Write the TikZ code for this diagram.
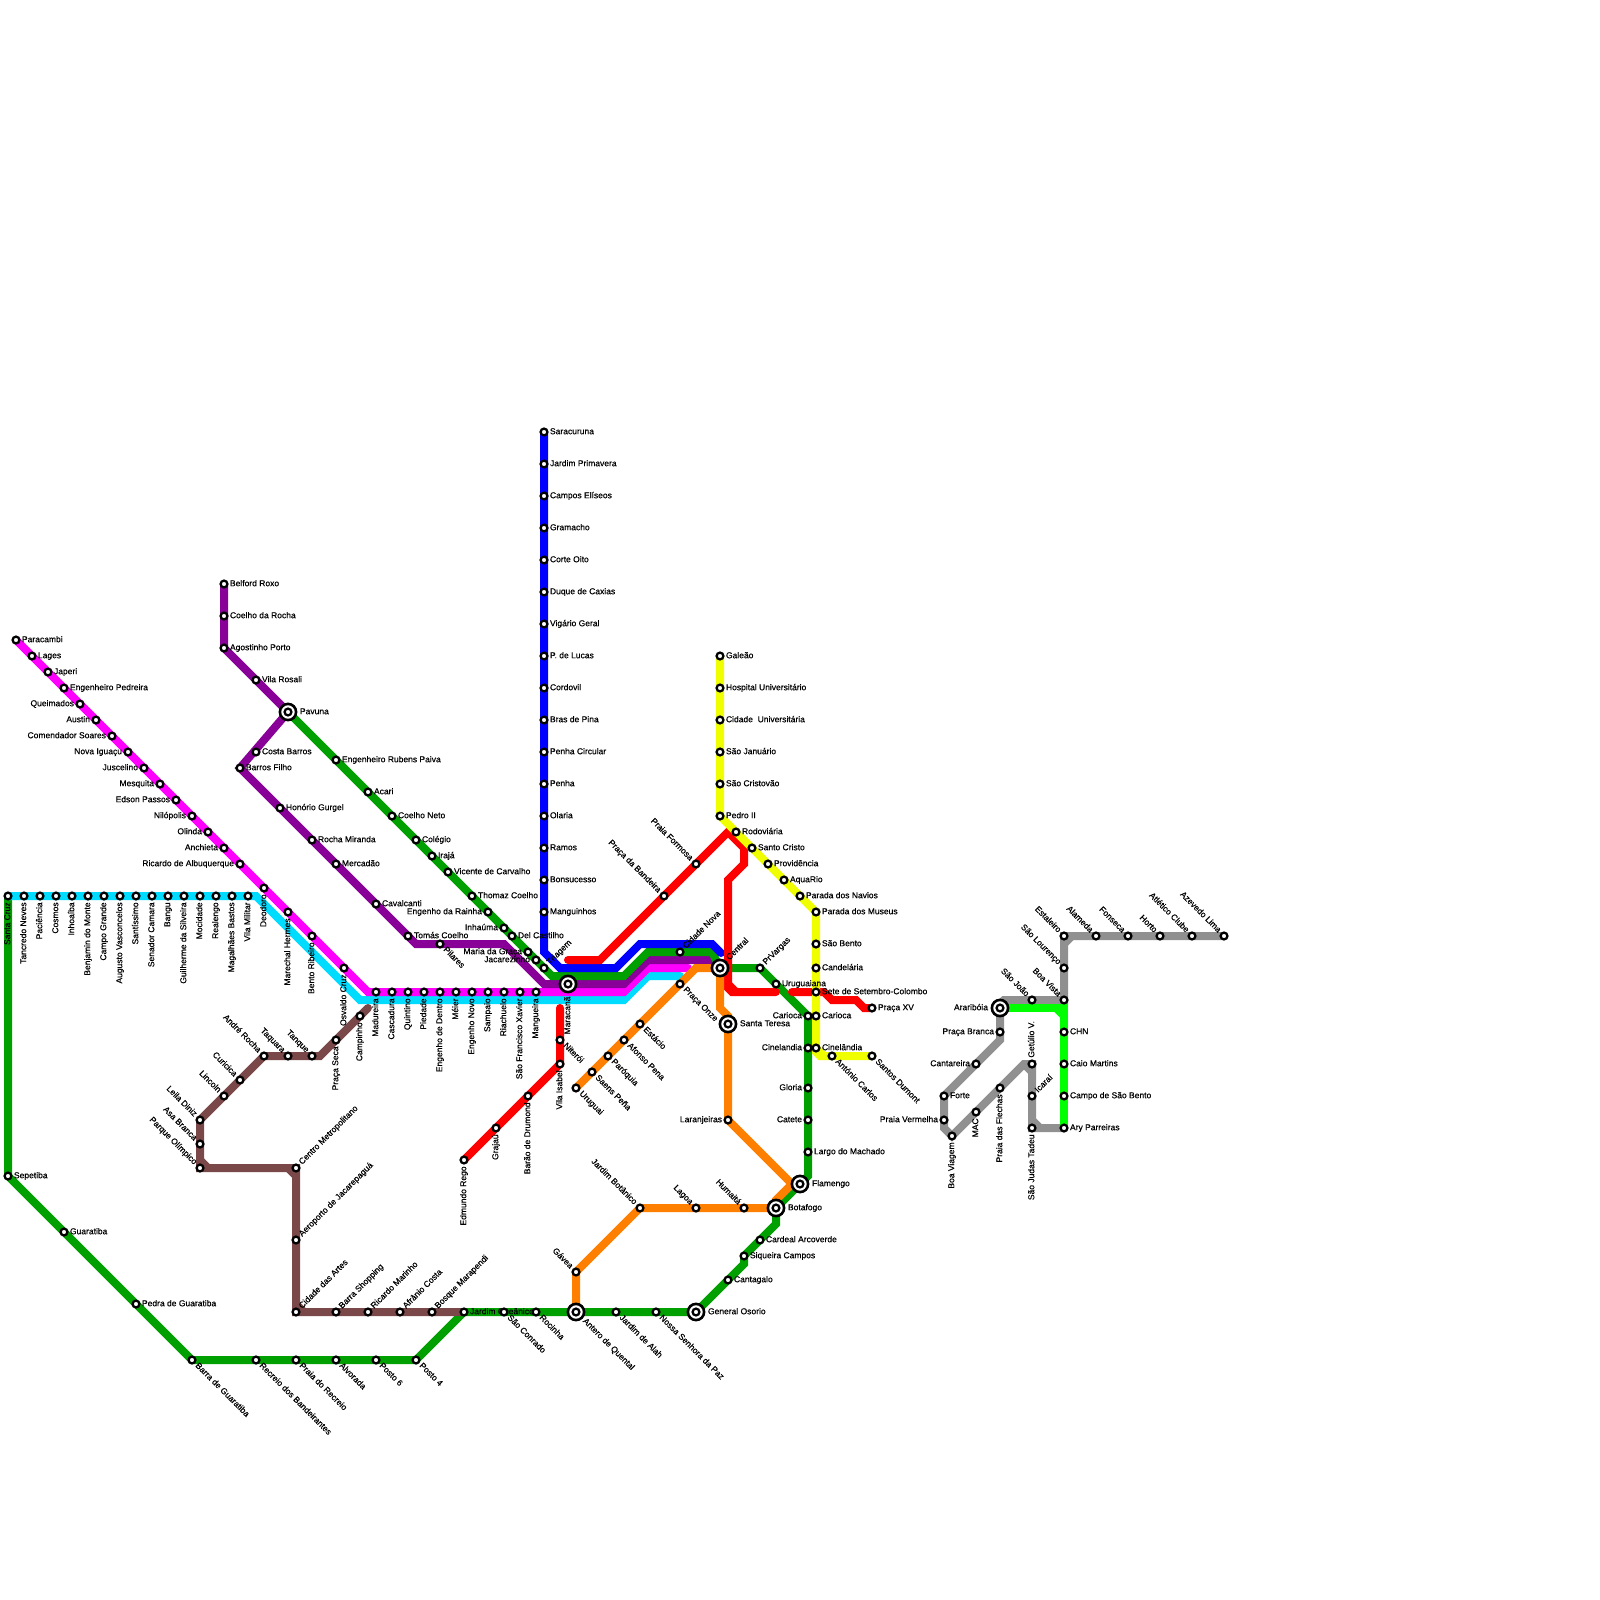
\documentclass[tikz,border=0pt]{standalone}
\usepackage{fontspec}
\setmainfont{Liberation Sans}
\newfontfamily\lblfont[FakeBold=0.4]{Liberation Sans}
\pgfdeclarelayer{bg}
\pgfsetlayers{bg,main}
\definecolor{lgreen}{RGB}{0,160,0}
\definecolor{lmag}{RGB}{255,0,255}
\definecolor{lcyan}{RGB}{0,220,255}
\definecolor{lpur}{RGB}{136,0,152}
\definecolor{lblue}{RGB}{0,0,255}
\definecolor{lred}{RGB}{255,0,0}
\definecolor{lora}{RGB}{255,128,0}
\definecolor{lyel}{RGB}{240,255,0}
\definecolor{lbrn}{RGB}{122,72,72}
\definecolor{lgry}{RGB}{144,144,144}
\definecolor{llim}{RGB}{0,255,0}
\tikzset{
  stn/.style={circle,draw=black,fill=white,line width=1.15pt,minimum size=3.4pt,inner sep=0pt},
  ringn/.style={circle,draw=black,fill=white,line width=1.3pt,minimum size=8.1pt,inner sep=0pt},
  lbl/.style={inner sep=0pt,outer sep=0pt,text height=2.8pt,text depth=0.6pt,text=black,font=\lblfont\fontsize{4.25pt}{5pt}\selectfont},
  R/.style={lbl,xshift=3pt,anchor=west},
  L/.style={lbl,xshift=-3pt,anchor=east},
  V/.style={lbl,yshift=-3.2pt,rotate=90,anchor=east},
  U/.style={lbl,yshift=3.2pt,rotate=90,anchor=west},
  UR/.style={lbl,xshift=2.3pt,yshift=2.3pt,rotate=45,anchor=west},
  DR/.style={lbl,xshift=2.3pt,yshift=-2.3pt,rotate=-45,anchor=west},
  UL/.style={lbl,xshift=-2.3pt,yshift=2.3pt,rotate=-45,anchor=east},
  BR/.style={lbl,xshift=6pt,anchor=west},
  BL/.style={lbl,xshift=-6pt,anchor=east},
  BV/.style={lbl,yshift=-6.3pt,rotate=90,anchor=east},
  BUR/.style={lbl,xshift=4pt,yshift=4.5pt,rotate=45,anchor=west},
  BDR/.style={lbl,xshift=4pt,yshift=-4pt,rotate=-45,anchor=west},
  ln/.style={line width=4pt,line cap=round,line join=miter,miter limit=10}
}
\newcommand{\st}[5]{\node[stn] (#1) at (#2,#3) {};\node[#4] (#1t) at (#2,#3) {#5};}
\newcommand{\bigst}[5]{\node[ringn] (#1r) at (#2,#3) {};\node[stn] (#1) at (#2,#3) {};\node[#4] (#1t) at (#2,#3) {#5};}
\begin{document}
\begin{tikzpicture}[x=0.5pt,y=-0.5pt]
\path[use as bounding box] (0,0) rectangle (1600,1600);
% magenta
\st{paracambi}{16}{640}{R}{Paracambi}
\st{lages}{32}{656}{R}{Lages}
\st{japeri}{48}{672}{R}{Japeri}
\st{engped}{64}{688}{R}{Engenheiro Pedreira}
\st{queimados}{80}{704}{L}{Queimados}
\st{austin}{96}{720}{L}{Austin}
\st{comsoares}{112}{736}{L}{Comendador Soares}
\st{novaig}{128}{752}{L}{Nova Iguaçu}
\st{juscelino}{144}{768}{L}{Juscelino}
\st{mesquita}{160}{784}{L}{Mesquita}
\st{edson}{176}{800}{L}{Edson Passos}
\st{nilopolis}{192}{816}{L}{Nilópolis}
\st{olinda}{208}{832}{L}{Olinda}
\st{anchieta}{224}{848}{L}{Anchieta}
\st{ricardo}{240}{864}{L}{Ricardo de Albuquerque}
\st{deodoro}{264}{888}{V}{Deodoro}
\st{marechal}{288}{912}{V}{Marechal Hermes}
\st{bento}{312}{936}{V}{Bento Ribeiro}
\st{osvaldo}{344}{968}{V}{Osvaldo Cruz}
\st{madureira}{376}{992}{V}{Madureira}
\st{cascadura}{392}{992}{V}{Cascadura}
\st{quintino}{408}{992}{V}{Quintino}
\st{piedade}{424}{992}{V}{Piedade}
\st{engdentro}{440}{992}{V}{Engenho de Dentro}
\st{meier}{456}{992}{V}{Méier}
\st{engnovo}{472}{992}{V}{Engenho Novo}
\st{sampaio}{488}{992}{V}{Sampaio}
\st{riachuelo}{504}{992}{V}{Riachuelo}
\st{sfx}{520}{992}{V}{São Francisco Xavier}
\st{mangueira}{536}{992}{V}{Mangueira}
% cyan
\st{stacruz}{8}{896}{V}{Santa Cruz}
\st{tancredo}{24}{896}{V}{Tancredo Neves}
\st{paciencia}{40}{896}{V}{Paciência}
\st{cosmos}{56}{896}{V}{Cosmos}
\st{inhoaiba}{72}{896}{V}{Inhoaíba}
\st{benjamin}{88}{896}{V}{Benjamin do Monte}
\st{campogr}{104}{896}{V}{Campo Grande}
\st{augusto}{120}{896}{V}{Augusto Vasconcelos}
\st{santissimo}{136}{896}{V}{Santíssimo}
\st{senador}{152}{896}{V}{Senador Camara}
\st{bangu}{168}{896}{V}{Bangu}
\st{guilherme}{184}{896}{V}{Guilherme da Silveira}
\st{mocidade}{200}{896}{V}{Mocidade}
\st{realengo}{216}{896}{V}{Realengo}
\st{magalhaes}{232}{896}{V}{Magalhães Bastos}
\st{vilamil}{248}{896}{V}{Vila Militar}
% purple
\st{belford}{224}{584}{R}{Belford Roxo}
\st{coelhor}{224}{616}{R}{Coelho da Rocha}
\st{agostinho}{224}{648}{R}{Agostinho Porto}
\st{vilarosali}{256}{680}{R}{Vila Rosali}
\bigst{pavuna}{288}{712}{BR}{Pavuna}
\st{costab}{256}{752}{R}{Costa Barros}
\st{barrosf}{240}{768}{R}{Barros Filho}
\st{honorio}{280}{808}{R}{Honório Gurgel}
\st{rocham}{312}{840}{R}{Rocha Miranda}
\st{mercadao}{336}{864}{R}{Mercadão}
\st{cavalcanti}{376}{904}{R}{Cavalcanti}
\st{tomas}{408}{936}{R}{Tomás Coelho}
\st{pilares}{440}{944}{DR}{Pilares}
% green 2
\st{rubens}{336}{760}{R}{Engenheiro Rubens Paiva}
\st{acari}{368}{792}{R}{Acari}
\st{coelhon}{392}{816}{R}{Coelho Neto}
\st{colegio}{416}{840}{R}{Colégio}
\st{iraja}{432}{856}{R}{Irajá}
\st{vicente}{448}{872}{R}{Vicente de Carvalho}
\st{thomaz}{472}{896}{R}{Thomaz Coelho}
\st{rainha}{488}{912}{L}{Engenho da Rainha}
\st{inhauma}{504}{928}{L}{Inhaúma}
\st{delcast}{512}{936}{R}{Del Castilho}
\st{mgraca}{528}{952}{L}{Maria da Graça}
\st{jacare}{536}{960}{L}{Jacarezinho}
\st{triagem}{544}{968}{UR}{Triagem}
\bigst{maracana}{568}{984}{BV}{Maracanã}
\st{cidnova}{680}{952}{UR}{Cidade Nova}
\bigst{central}{720}{968}{BUR}{Central}
% blue
\st{saracuruna}{544}{432}{R}{Saracuruna}
\st{jprimavera}{544}{464}{R}{Jardim Primavera}
\st{celiseos}{544}{496}{R}{Campos Elíseos}
\st{gramacho}{544}{528}{R}{Gramacho}
\st{corteoito}{544}{560}{R}{Corte Oito}
\st{duque}{544}{592}{R}{Duque de Caxias}
\st{vigario}{544}{624}{R}{Vigário Geral}
\st{plucas}{544}{656}{R}{P. de Lucas}
\st{cordovil}{544}{688}{R}{Cordovil}
\st{braspina}{544}{720}{R}{Bras de Pina}
\st{penhac}{544}{752}{R}{Penha Circular}
\st{penha}{544}{784}{R}{Penha}
\st{olaria}{544}{816}{R}{Olaria}
\st{ramos}{544}{848}{R}{Ramos}
\st{bonsucesso}{544}{880}{R}{Bonsucesso}
\st{manguinhos}{544}{912}{R}{Manguinhos}
% red
\st{edmundo}{464}{1160}{V}{Edmundo Rego}
\st{grajau}{496}{1128}{V}{Grajaú}
\st{barao}{528}{1096}{V}{Barão de Drumond}
\st{visabel}{560}{1064}{V}{Vila Isabel}
\st{niteroi}{560}{1040}{DR}{Niterói}
\st{pbandeira}{664}{896}{UL}{Praça da Bandeira}
\st{pformosa}{696}{864}{UL}{Praia Formosa}
\st{prvargas}{760}{968}{UR}{PrVargas}
\st{uruguaiana}{776}{984}{R}{Uruguaiana}
\st{colombo}{816}{992}{R}{Sete de Setembro-Colombo}
\st{pracaxv}{872}{1008}{R}{Praça XV}
% green 4 and 1
\st{cariocag}{808}{1016}{L}{Carioca}
\st{cinelg}{808}{1048}{L}{Cinelandia}
\st{gloria}{808}{1088}{L}{Gloria}
\st{catete}{808}{1120}{L}{Catete}
\st{largo}{808}{1152}{R}{Largo do Machado}
\bigst{flamengo}{800}{1184}{BR}{Flamengo}
\bigst{botafogo}{776}{1208}{BR}{Botafogo}
\st{cardeal}{760}{1240}{R}{Cardeal Arcoverde}
\st{siqueira}{744}{1256}{R}{Siqueira Campos}
\st{cantagalo}{728}{1280}{R}{Cantagalo}
\bigst{osorio}{696}{1312}{BR}{General Osorio}
\st{nspaz}{656}{1312}{DR}{Nossa Senhora da Paz}
\st{alah}{616}{1312}{DR}{Jardim de Alah}
\bigst{antero}{576}{1312}{BDR}{Antero de Quental}
\st{rocinha}{536}{1312}{DR}{Rocinha}
\node[stn] (jocean) at (464,1312) {};
\node[R] (jocean t) at (464,1312) {Jardim Oceânico};
\st{sconrado}{504}{1312}{DR}{São Conrado}
\st{posto4}{416}{1360}{DR}{Posto 4}
\st{posto6}{376}{1360}{DR}{Posto 6}
\st{alvorada}{336}{1360}{DR}{Alvorada}
\st{praiarec}{296}{1360}{DR}{Praia do Recreio}
\st{recreio}{256}{1360}{DR}{Recreio dos Bandeirantes}
\st{barrag}{192}{1360}{DR}{Barra de Guaratiba}
\st{pedrag}{136}{1304}{R}{Pedra de Guaratiba}
\st{guaratiba}{64}{1232}{R}{Guaratiba}
\st{sepetiba}{8}{1176}{R}{Sepetiba}
% orange
\st{uruguai}{576}{1088}{DR}{Uruguai}
\st{saens}{592}{1072}{DR}{Saens Peña}
\st{paroquia}{608}{1056}{DR}{Paróquia}
\st{afonso}{624}{1040}{DR}{Afonso Pena}
\st{estacio}{640}{1024}{DR}{Estácio}
\st{ponze}{680}{984}{DR}{Praça Onze}
\bigst{steresa}{728}{1024}{BR}{Santa Teresa}
\st{laranjeiras}{728}{1120}{L}{Laranjeiras}
\st{humaita}{744}{1208}{UL}{Humaitá}
\st{lagoa}{696}{1208}{UL}{Lagoa}
\st{jbotanico}{640}{1208}{UL}{Jardim Botânico}
\st{gavea}{576}{1272}{UL}{Gávea}
% yellow
\st{galeao}{720}{656}{R}{Galeão}
\st{hospital}{720}{688}{R}{Hospital Universitário}
\st{cuniv}{720}{720}{R}{Cidade\ \ Universitária}
\st{sjanuario}{720}{752}{R}{São Januário}
\st{scristovao}{720}{784}{R}{São Cristovão}
\st{pedro}{720}{816}{R}{Pedro II}
\st{rodoviaria}{736}{832}{R}{Rodoviária}
\st{scristo}{752}{848}{R}{Santo Cristo}
\st{providencia}{768}{864}{R}{Providência}
\st{aquario}{784}{880}{R}{AquaRio}
\st{navios}{800}{896}{R}{Parada dos Navios}
\st{museus}{816}{912}{R}{Parada dos Museus}
\st{sbento}{816}{944}{R}{São Bento}
\st{candelaria}{816}{968}{R}{Candelária}
\st{cariocay}{816}{1016}{R}{Carioca}
\st{cinely}{816}{1048}{R}{Cinelândia}
\st{acarlos}{832}{1056}{DR}{António Carlos}
\st{sdumont}{872}{1056}{DR}{Santos Dumont}
% brown
\st{campinho}{360}{1016}{V}{Campinho}
\st{pseca}{336}{1040}{V}{Praça Seca}
\st{tanque}{312}{1056}{UL}{Tanque}
\st{taquara}{288}{1056}{UL}{Taquara}
\st{andre}{264}{1056}{UL}{André Rocha}
\st{curicica}{240}{1080}{UL}{Curicica}
\st{lincoln}{224}{1096}{UL}{Lincoln}
\st{leila}{200}{1120}{UL}{Leila Diniz}
\st{asab}{200}{1144}{UL}{Asa Branca}
\st{polimp}{200}{1168}{UL}{Parque Olímpico}
\st{cmetro}{296}{1168}{UR}{Centro Metropolitano}
\st{aeroporto}{296}{1240}{UR}{Aeroporto de Jacarepaguá}
\st{cartes}{296}{1312}{UR}{Cidade das Artes}
\st{bshop}{336}{1312}{UR}{Barra Shopping}
\st{rmarinho}{368}{1312}{UR}{Ricardo Marinho}
\st{afranio}{400}{1312}{UR}{Afrânio Costa}
\st{bosque}{432}{1312}{UR}{Bosque Marapendi}
% grey and lime
\bigst{arariboia}{1000}{1008}{BL}{Araribóia}
\st{pbranca}{1000}{1032}{L}{Praça Branca}
\st{cantareira}{976}{1064}{L}{Cantareira}
\st{forte}{944}{1096}{R}{Forte}
\st{pvermelha}{944}{1120}{L}{Praia Vermelha}
\st{bviagem}{952}{1136}{V}{Boa Viagem}
\st{mac}{976}{1112}{V}{MAC}
\st{flechas}{1000}{1088}{V}{Praia das Flechas}
\st{getulio}{1032}{1064}{U}{Getúlio V.}
\st{icarai}{1032}{1096}{UR}{Icaraí}
\st{sjudas}{1032}{1128}{V}{São Judas Tadeu}
\st{ary}{1064}{1128}{R}{Ary Parreiras}
\st{csbento}{1064}{1096}{R}{Campo de São Bento}
\st{caio}{1064}{1064}{R}{Caio Martins}
\st{chn}{1064}{1032}{R}{CHN}
\st{bvista}{1064}{1000}{UL}{Boa Vista}
\st{sjoao}{1032}{1000}{UL}{São João}
\st{slourenco}{1064}{968}{UL}{São Lourenço}
\st{estaleiro}{1064}{936}{UL}{Estaleiro}
\st{alameda}{1096}{936}{UL}{Alameda}
\st{fonseca}{1128}{936}{UL}{Fonseca}
\st{horto}{1160}{936}{UL}{Horto}
\st{atletico}{1192}{936}{UL}{Atlético Clube}
\st{azevedo}{1224}{936}{UL}{Azevedo Lima}
% bend points and free ends
\coordinate (cyA) at (256,896);
\coordinate (cyB) at (360,1000);
\coordinate (cyC) at (624,1000);
\coordinate (cyD) at (648,976);
\coordinate (cyE) at (680,976);
\coordinate (maA) at (368,992);
\coordinate (maB) at (624,992);
\coordinate (maC) at (648,968);
\coordinate (maD) at (688,968);
\coordinate (puA) at (416,944);
\coordinate (puB) at (504,944);
\coordinate (puC) at (544,984);
\coordinate (puD) at (624,984);
\coordinate (puE) at (648,960);
\coordinate (puF) at (712,960);
\coordinate (grA) at (552,976);
\coordinate (grB) at (624,976);
\coordinate (grC) at (648,952);
\coordinate (grD) at (712,952);
\coordinate (grE) at (808,1176);
\coordinate (grF) at (776,1224);
\coordinate (grG) at (744,1264);
\coordinate (blA) at (544,952);
\coordinate (blB) at (560,968);
\coordinate (blC) at (616,968);
\coordinate (blD) at (640,944);
\coordinate (blE) at (712,944);
\coordinate (blF) at (721,953);
\coordinate (reA) at (560,1008);
\coordinate (reB) at (568,960);
\coordinate (reC) at (600,960);
\coordinate (reD) at (728,832);
\coordinate (reE) at (744,848);
\coordinate (reF) at (744,864);
\coordinate (reG) at (728,880);
\coordinate (reH) at (728,988);
\coordinate (reQ) at (732,992);
\coordinate (reI) at (776,992);
\coordinate (reJ) at (792,992);
\coordinate (reK) at (824,992);
\coordinate (reL) at (832,1000);
\coordinate (reM) at (856,1000);
\coordinate (reN) at (864,1008);
\coordinate (reO) at (728,984);
\coordinate (reP) at (736,992);
\coordinate (orA) at (696,968);
\coordinate (orB) at (720,1008);
\coordinate (orC) at (728,1016);
\coordinate (orD) at (792,1184);
\coordinate (orE) at (776,1200);
\coordinate (yeA) at (816,1052);
\coordinate (yeD) at (820,1056);
\coordinate (yeB) at (816,1048);
\coordinate (yeC) at (824,1056);
\coordinate (brA) at (368,1008);
\coordinate (brB) at (320,1056);
\coordinate (brC) at (200,1160);
\coordinate (brD) at (208,1168);
\coordinate (brE) at (288,1168);
\coordinate (brF) at (296,1176);
\coordinate (brG) at (296,1304);
\coordinate (brH) at (304,1312);
\coordinate (gyA) at (1072,936);
\coordinate (gyB) at (1064,944);
\coordinate (gyC) at (1000,1004);
\coordinate (gyD) at (1004,1000);
\coordinate (gyE) at (1000,1040);
\coordinate (gyF) at (944,1128);
\coordinate (gyG) at (1024,1064);
\coordinate (gyH) at (1032,1072);
\coordinate (gyI) at (1032,1120);
\coordinate (gyJ) at (1040,1128);
\coordinate (liA) at (1064,1008);
\coordinate (liB) at (1056,1008);
\coordinate (liC) at (1064,1016);
\begin{pgfonlayer}{bg}
\fill[white] (0,0) rectangle (1600,1600);
\draw[ln,lgreen] (stacruz.center)--(sepetiba.center)--(barrag.center)--(posto4.center)--(jocean.center)--(osorio.center)--(grG)--(siqueira.center)--(grF)--(botafogo.center)--(grE)--(cariocag.center)--(prvargas.center)--(central.center);
\draw[ln,lcyan] (stacruz.center)--(cyA)--(cyB)--(cyC)--(cyD)--(cyE);
\draw[ln,lmag] (paracambi.center)--(maA)--(maB)--(maC)--(maD);
\draw[ln,lpur] (belford.center)--(agostinho.center)--(pavuna.center)--(barrosf.center)--(puA)--(puB)--(puC)--(puD)--(puE)--(puF)--(central.center);
\draw[ln,lgreen] (pavuna.center)--(grA)--(grB)--(grC)--(grD)--(central.center);
\draw[ln,lblue] (saracuruna.center)--(blA)--(blB)--(blC)--(blD)--(blE)--(blF);
\draw[ln,lred] (reA)--(visabel.center)--(edmundo.center);
\draw[ln,lred] (reB)--(reC)--(reD)--(reE)--(reF)--(reG)--(reH)--(reQ)--(reI);
\draw[ln,lred] (reO)--(reP);
\draw[ln,lred] (reJ)--(reK)--(reL)--(reM)--(reN)--(pracaxv.center);
\draw[ln,lora] (uruguai.center)--(orA)--(central.center)--(orB)--(orC)--(laranjeiras.center)--(orD)--(orE)--(botafogo.center)--(jbotanico.center)--(gavea.center)--(antero.center);
\draw[ln,lyel] (galeao.center)--(pedro.center)--(museus.center)--(yeA)--(yeD)--(sdumont.center);
\draw[ln,lyel] (yeB)--(yeC);
\draw[ln,lbrn] (brA)--(brB)--(andre.center)--(leila.center)--(polimp.center)--(cmetro.center)--(cartes.center)--(jocean.center);
\draw[ln,lbrn] (brC)--(brD) (brE)--(brF) (brG)--(brH);
\draw[ln,lgry] (azevedo.center)--(estaleiro.center)--(bvista.center)--(sjoao.center)--(gyD)--(gyC)--(gyE)--(forte.center)--(gyF)--(bviagem.center)--(gyG)--(getulio.center)--(sjudas.center)--(ary.center);
\draw[ln,lgry] (gyA)--(gyB) (gyG)--(gyH) (gyI)--(gyJ);
\draw[ln,llim] (arariboia.center)--(liA)--(ary.center);
\draw[ln,llim] (liB)--(liC);
\end{pgfonlayer}
\end{tikzpicture}
\end{document}
